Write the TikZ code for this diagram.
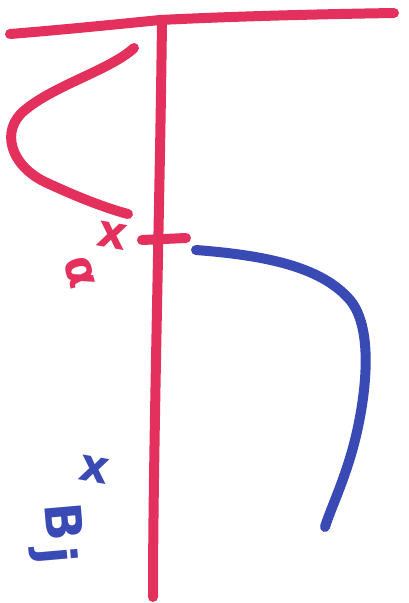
\documentclass[tikz,border=0pt]{standalone}
\usepackage{fontspec}
\setmainfont{DejaVu Sans}
\definecolor{pinkred}{RGB}{228,48,92}
\definecolor{penblue}{RGB}{58,74,180}
\begin{document}
\begin{tikzpicture}[x=1pt,y=-1pt,
  pen/.style={line width=10pt,line cap=round,line join=round},
  pinkpen/.style={pen,draw=pinkred},
  bluepen/.style={pen,draw=penblue},
  lbl/.style={font=\bfseries\fontsize{46}{46}\selectfont,inner sep=0pt}]
\useasboundingbox (0,0) rectangle (409,603);
% top bar
\draw[pinkpen] (10,34) .. controls (60,30) and (120,24) .. (160,20)
  .. controls (240,16) and (330,14) .. (394,13);
% vertical line
\draw[pinkpen] (162,20) .. controls (160,200) and (153,450) .. (153,597);
% left curve
\draw[pinkpen] (134,48) .. controls (110,70) and (55,85) .. (25,110)
  .. controls (0,130) and (10,165) .. (45,182)
  .. controls (75,196) and (105,208) .. (128,214);
% tick across vertical line
\draw[pinkpen] (142,240) -- (186,238);
% blue curve
\draw[bluepen] (196,250) .. controls (260,255) and (320,265) .. (350,300)
  .. controls (375,330) and (365,400) .. (355,440)
  .. controls (345,480) and (330,510) .. (325,527);
% labels
\node[lbl,text=pinkred,rotate=-10] (xa) at (112,236) {x};
\node[lbl,text=pinkred,rotate=-75] (alpha) at (80,272) {α};
\node[lbl,text=penblue,rotate=-10] (xb) at (94,470) {x};
\node[lbl,text=penblue,rotate=-85,font=\bfseries\fontsize{50}{50}\selectfont] (bletter) at (64,522) {B};
\node[lbl,text=penblue,rotate=-85,font=\bfseries\fontsize{50}{50}\selectfont] (jletter) at (54,556) {j};
\end{tikzpicture}
\end{document}
